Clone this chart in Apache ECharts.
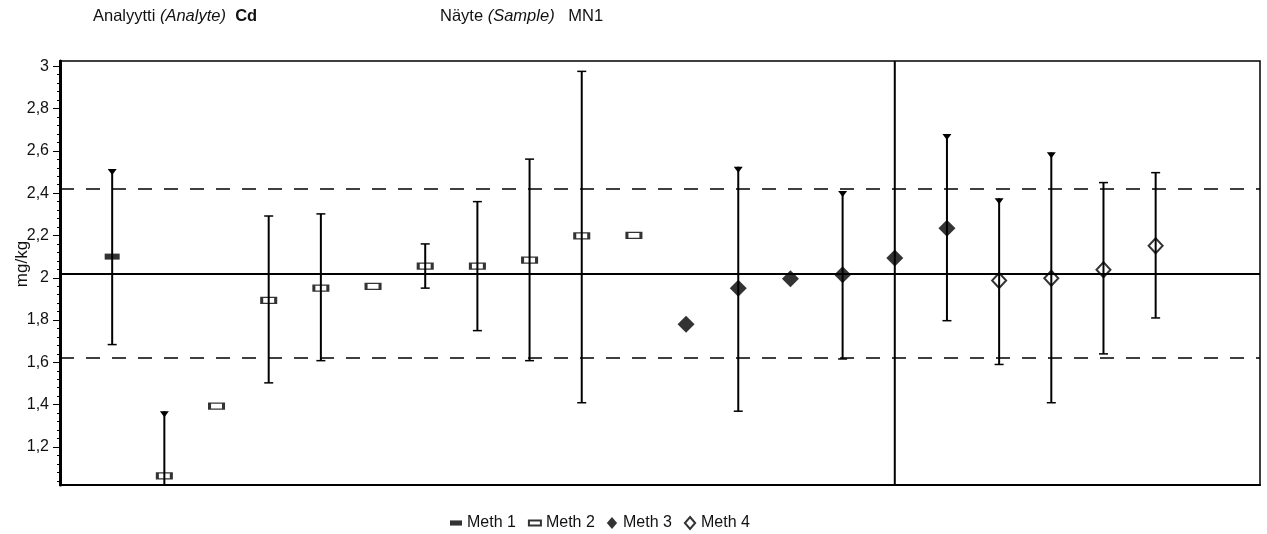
<!DOCTYPE html>
<html><head><meta charset="utf-8">
<script src="https://cdn.jsdelivr.net/npm/echarts@6/dist/echarts.min.js"></script>
<style>html,body{margin:0;padding:0;background:#fff}#c{width:1267px;height:534px}</style>
</head><body><div id="c"></div>
<script>
// ---- data ----
const labs    = [1,2,3,4,5,6,7,8,9,10,11,12,13,14,15,16,17,18,19,20,21];
const methods = [1,2,2,2,2,2,2,2,2,2,2,3,3,3,3,3,3,4,4,4,4];
const values  = [2.10,1.063,1.393,1.893,1.951,1.959,2.055,2.055,2.083,2.198,2.200,1.780,1.950,1.995,2.014,2.093,2.234,1.987,1.998,2.038,2.151];
const lows    = [1.684,0.757,null,1.503,1.608,null,1.951,1.750,1.608,1.409,null,null,1.369,null,1.616,0.40,1.797,1.590,1.409,1.640,1.810];
const highs   = [2.514,1.369,null,2.292,2.302,null,2.160,2.360,2.561,2.976,null,null,2.525,null,2.410,3.80,2.680,2.376,2.593,2.450,2.497];
const assignedValue = 2.02;
const lowerLimit = 1.616;
const upperLimit = 2.424;
const yTickLabels = [1.2,1.4,1.6,1.8,2,2.2,2.4,2.6,2.8,3];
const methodNames = ['Meth 1','Meth 2','Meth 3','Meth 4'];
const triangleTopCaps = [0,1,12,14,16,17,18];

// ---- chart ----
const FONT = 'Liberation Sans, Arial, sans-serif';
const chart = echarts.init(document.getElementById('c'), null, {renderer:'canvas'});

const minorTicks = [];
for (let k = 26; k <= 75; k++) minorTicks.push(+(k*0.04).toFixed(2));

const rectPath = 'path://M0,0H14V6H0Z';
const diamondPath = 'path://M7,0L14,7L7,14L0,7Z';
const markerStyles = {
  1: {symbol: rectPath, size: [15,6], itemStyle: {color:'#000', borderColor:'#000', borderWidth:0}},
  2: {symbol: rectPath, size: [14,6], itemStyle: {color:'#fff', borderColor:'#000', borderWidth:2}},
  3: {symbol: diamondPath, size: [17,17], itemStyle: {color:'#000', borderColor:'#000', borderWidth:0}},
  4: {symbol: diamondPath, size: [14,15], itemStyle: {color:'#fff', borderColor:'#000', borderWidth:2}}
};

const scatterSeries = methodNames.map((name, mi) => {
  const m = mi + 1;
  const data = [];
  labs.forEach((lab, i) => { if (methods[i] === m) data.push([lab, values[i]]); });
  const st = markerStyles[m];
  return {
    name, type:'scatter', data, symbol: st.symbol, symbolSize: st.size,
    symbolKeepAspect: false, itemStyle: st.itemStyle, z: 3, silent: true
  };
});

const errData = [];
labs.forEach((lab, i) => {
  if (lows[i] !== null) errData.push([lab, lows[i], highs[i], triangleTopCaps.includes(i) ? 1 : 0]);
});

const errSeries = {
  type:'custom', name:'err', data: errData, clip: true, z: 4, silent: true,
  encode: {x:0, y:[1,2]},
  renderItem(params, api) {
    const x = api.value(0), lo = api.value(1), hi = api.value(2), tri = api.value(3);
    const a = api.coord([x, lo]), b = api.coord([x, hi]);
    const cw = 4.5;
    const ch = [
      {type:'line', shape:{x1:a[0], y1:a[1], x2:b[0], y2:b[1]}, style:{stroke:'#000', lineWidth:2}},
      {type:'line', shape:{x1:a[0]-cw, y1:a[1], x2:a[0]+cw, y2:a[1]}, style:{stroke:'#000', lineWidth:1.5}}
    ];
    if (tri) ch.push({type:'polygon', shape:{points:[[b[0]-4.5,b[1]],[b[0]+4.5,b[1]],[b[0],b[1]+6]]}, style:{fill:'#000'}});
    else ch.push({type:'line', shape:{x1:b[0]-cw, y1:b[1], x2:b[0]+cw, y2:b[1]}, style:{stroke:'#000', lineWidth:1.5}});
    return {type:'group', children: ch};
  }
};

const refSeries = {
  type:'line', name:'ref', data:[], silent:true, z: 2,
  markLine: {
    silent:true, symbol:['none','none'], label:{show:false},
    data: [
      {yAxis: assignedValue, lineStyle:{type:'solid', color:'#000', width:1.8}},
      {yAxis: lowerLimit, lineStyle:{type:[14,12], color:'#000', width:1.6}},
      {yAxis: upperLimit, lineStyle:{type:[14,12], color:'#000', width:1.6}}
    ]
  }
};

const fmt = v => String(+v.toFixed(2)).replace('.', ',');

chart.setOption({
  animation:false,
  backgroundColor:'#fff',
  textStyle:{fontFamily: FONT},
  grid:{left:60, right:7, top:61, bottom:49, show:true, borderColor:'#000', borderWidth:1.5, backgroundColor:'transparent'},
  xAxis:{type:'value', min:0, max:23, axisLabel:{show:false}, axisTick:{show:false}, splitLine:{show:false},
         axisLine:{show:true, onZero:false, lineStyle:{color:'#000', width:2}}},
  yAxis:[
    {type:'value', min:1.02, max:3.025, position:'left',
     axisLine:{show:true, onZero:false, lineStyle:{color:'#000', width:3}},
     axisTick:{show:true, customValues: yTickLabels, length:7, lineStyle:{color:'#000', width:1}},
     axisLabel:{show:true, customValues: yTickLabels, formatter: fmt, margin:11, fontSize:16, color:'#111', fontFamily:FONT},
     splitLine:{show:false}},
    {type:'value', min:1.02, max:3.025, position:'left',
     axisLine:{show:false},
     axisTick:{show:true, customValues: minorTicks, length:3, lineStyle:{color:'#000', width:1}},
     axisLabel:{show:false}, splitLine:{show:false}}
  ],
  legend:{
    left:445, top:510, itemGap:12, itemWidth:12, itemHeight:12, selectedMode:false,
    textStyle:{fontSize:16, color:'#111', fontFamily:FONT},
    data:[
      {name:'Meth 1', icon:'path://M0,0H14V6H0Z'},
      {name:'Meth 2', icon:'path://M0,0H14V6H0Z'},
      {name:'Meth 3', icon:'path://M7,0L13,7L7,14L1,7Z'},
      {name:'Meth 4', icon:'path://M7,0L13,7L7,14L1,7Z'}
    ]
  },
  graphic:[
    {type:'text', left:93, top:8, style:{
      text:'{n|Analyytti }{i|(Analyte)}{n|  }{b|Cd}',
      rich:{n:{fontSize:16.5, fontFamily:FONT, fill:'#111'}, i:{fontSize:16.5, fontStyle:'italic', fontFamily:FONT, fill:'#111'}, b:{fontSize:16.5, fontWeight:'bold', fontFamily:FONT, fill:'#111'}}
    }},
    {type:'text', left:440, top:8, style:{
      text:'{n|Näyte }{i|(Sample)}{n|   MN1}',
      rich:{n:{fontSize:16.5, fontFamily:FONT, fill:'#111'}, i:{fontSize:16.5, fontStyle:'italic', fontFamily:FONT, fill:'#111'}}
    }},
    {type:'text', x:22, y:264, rotation:Math.PI/2, style:{text:'mg/kg', fontSize:17, fontFamily:FONT, fill:'#111', align:'center', verticalAlign:'middle'}}
  ],
  series:[refSeries, ...scatterSeries, errSeries]
});
</script></body></html>
